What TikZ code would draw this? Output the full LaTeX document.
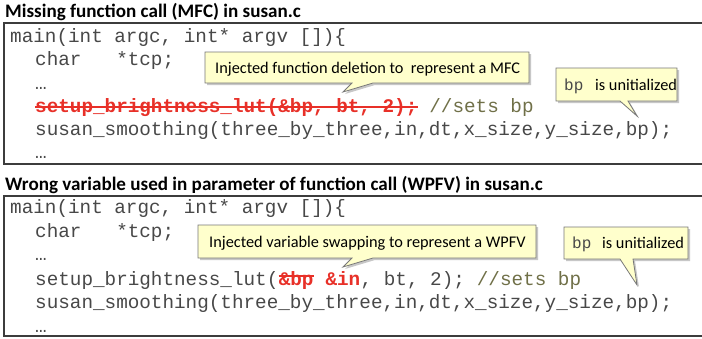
\documentclass[tikz,border=0pt]{standalone}
\usepackage{fontspec}
\setmainfont{Carlito}
\newfontfamily\codefont{Liberation Mono}
\definecolor{codegray}{RGB}{72,72,72}
\definecolor{codered}{RGB}{232,48,40}
\definecolor{codeolive}{RGB}{112,112,72}
\definecolor{framegray}{RGB}{60,60,60}
\definecolor{calloutfill}{RGB}{255,255,204}
\definecolor{calloutline}{RGB}{120,120,120}
\begin{document}
\begin{tikzpicture}[x=1pt,y=-1pt,
  titletext/.style={anchor=base west, inner sep=0pt, font=\bfseries\fontsize{19.1}{21}\selectfont, text=black},
  code/.style={anchor=base west, inner sep=0pt, text=codegray, font=\codefont\fontsize{19.3}{22}\selectfont},
  redcode/.style={code, text=codered, font=\codefont\bfseries\fontsize{19.3}{22}\selectfont},
  comment/.style={code, text=codeolive},
  notetext/.style={anchor=base west, inner sep=0pt, font=\fontsize{16.3}{18}\selectfont, text=black},
  notecode/.style={anchor=base west, inner sep=0pt, text=codegray, font=\codefont\fontsize{16}{18}\selectfont},
  frame/.style={draw=framegray, line width=1.5pt},
  calloutshape/.style={fill=calloutfill, draw=calloutline, line width=0.8pt, line join=miter},
  calloutshadow/.style={fill=black!22},
  strike/.style={draw=codered, line width=1.4pt}]
\useasboundingbox (0,0) rectangle (702,338);
\fill[white] (0,0) rectangle (702,338);

% ---------- upper panel ----------
\node[titletext] (t1) at (5,17) {Missing function call (MFC) in susan.c};
\draw[frame] (4,23) rectangle (705,164);
\node[code] (a1) at (10,42) {main(int argc, int* argv [])\{};
\node[code] (a2) at (35,65) {char\ \ \ *tcp;};
\node[code] (a3) at (35,89) {…};
\node[redcode] (a4) at (35,112) {setup\_brightness\_lut(\&bp, bt, 2);};
\node[comment] (a5) at ([xshift=11.58pt]a4.base east) {//sets bp};
\node[code] (a6) at (35,135) {susan\_smoothing(three\_by\_three,in,dt,x\_size,y\_size,bp);};
\node[code] (a7) at (35,158) {…};
\draw[strike] ([yshift=5pt]a4.base west) -- ([yshift=5pt]a4.base east);

% callout MFC
\coordinate (p1) at (343,92);
\fill[calloutshadow] (207,54) -- (531,54) -- (531,85) -- (375,85) -- (345,94) -- (354,85) -- (207,85) -- cycle;
\path[calloutshape] (205,52) -- (529,52) -- (529,83) -- (373,83) -- (p1) -- (352,83) -- (205,83) -- cycle;
\node[notetext] (n1) at (215,73) {Injected function deletion to\ \ represent a MFC};

% callout bp upper
\coordinate (p2) at (637,116);
\fill[calloutshadow] (558,70) -- (679,70) -- (679,103) -- (630,103) -- (639,118) -- (622,103) -- (558,103) -- cycle;
\path[calloutshape] (556,68) -- (677,68) -- (677,101) -- (628,101) -- (p2) -- (620,101) -- (556,101) -- cycle;
\node[notecode] (n2) at (564,90) {bp};
\node[notetext] (n3) at (595,90) {is unitialized};

% ---------- lower panel ----------
\node[titletext] (t2) at (5,190) {Wrong variable used in parameter of function call (WPFV) in susan.c};
\draw[frame] (4,196) rectangle (705,336);
\node[code] (b1) at (10,213) {main(int argc, int* argv [])\{};
\node[code] (b2) at (35,237) {char\ \ \ *tcp;};
\node[code] (b3) at (35,260) {…};
\node[code] (b4) at (35,285) {setup\_brightness\_lut(};
\node[redcode] (b5) at (b4.base east) {\&bp};
\node[redcode] (b6) at ([xshift=11.58pt]b5.base east) {\&in};
\node[code] (b7) at (b6.base east) {, bt, 2);};
\node[comment] (b8) at ([xshift=11.58pt]b7.base east) {//sets bp};
\node[code] (b9) at (35,308) {susan\_smoothing(three\_by\_three,in,dt,x\_size,y\_size,bp);};
\node[code] (b10) at (35,332) {…};
\draw[strike] ([yshift=9pt]b5.base west) -- ([yshift=9pt]b5.base east);

% callout WPFV
\coordinate (p3) at (343,267);
\fill[calloutshadow] (200,227) -- (538,227) -- (538,260) -- (375,260) -- (345,269) -- (354,260) -- (200,260) -- cycle;
\path[calloutshape] (198,225) -- (536,225) -- (536,258) -- (373,258) -- (p3) -- (352,258) -- (198,258) -- cycle;
\node[notetext] (n4) at (209,247) {Injected variable swapping to represent a WPFV};

% callout bp lower
\coordinate (p4) at (637,285);
\fill[calloutshadow] (566,229) -- (690,229) -- (690,261) -- (635,261) -- (639,287) -- (622,261) -- (566,261) -- cycle;
\path[calloutshape] (564,227) -- (688,227) -- (688,259) -- (633,259) -- (p4) -- (620,259) -- (564,259) -- cycle;
\node[notecode] (n5) at (572,248) {bp};
\node[notetext] (n6) at (602,248) {is unitialized};
\end{tikzpicture}
\end{document}
